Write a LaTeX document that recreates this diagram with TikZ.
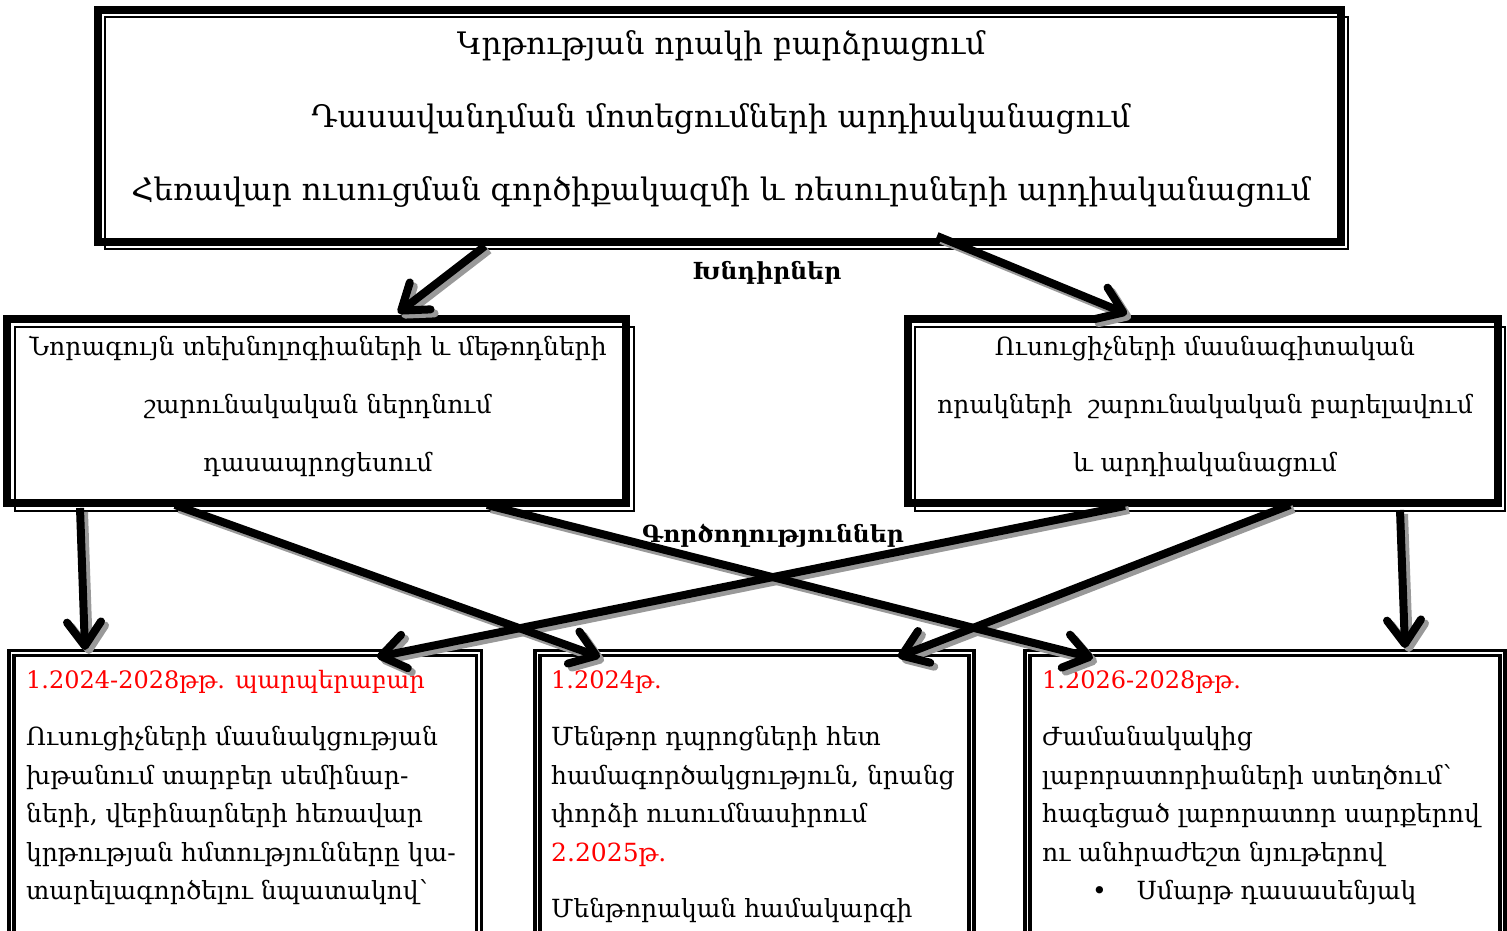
\documentclass[tikz,border=0pt]{standalone}
\usepackage{fontspec}
\setmainfont{DejaVu Serif}
\usetikzlibrary{arrows.meta}

\begin{document}
\begin{tikzpicture}[x=1pt,y=-1pt]
			\tikzset{frame/.style={draw,fill=white,line width=8pt,inner sep=0pt,outer sep=0pt}}
			\tikzset{thinframe/.style={line width=2pt}}
			\tikzset{planframe/.style={draw,double,line width=3.2pt,double distance=1.8pt,inner sep=0pt,outer sep=0pt}}
			\tikzset{arr/.style={line width=8pt,-{Straight Barb[round,length=24pt,width=34pt]}}}
			\tikzset{arrshadow/.style={arr,draw=black!40}}
			\tikzset{head/.style={anchor=base west,inner sep=0pt,text=red,font=\fontsize{24}{38.5}\selectfont}}
			\tikzset{body/.style={anchor=north west,inner sep=0pt,align=left,font=\fontsize{25}{38.5}\selectfont,execute at begin node=\strut}}
			\tikzset{title/.style={font=\bfseries\fontsize{23.5}{30}\selectfont}}
			\useasboundingbox (0,0) rectangle (1507,931);
			\clip (0,0) rectangle (1507,931);
			% goals
			\node[frame,minimum width=1243.5pt,minimum height=232pt] (goalbox) at (719.25,126) {};
			\draw[thinframe] ([shift={(7,7)}]goalbox.north west) rectangle ([shift={(7,7)}]goalbox.south east);
			\node[inner sep=0pt,align=center,font=\fontsize{31}{73}\selectfont] (goals) at (721,119) {Կրթության որակի բարձրացում\\Դասավանդման մոտեցումների արդիականացում\\Հեռավար ուսուցման գործիքակազմի և ռեսուրսների արդիականացում};
			% tasks
			\node[frame,minimum width=619pt,minimum height=184pt] (taskl) at (316.5,411) {};
			\draw[thinframe] ([shift={(8,8)}]taskl.north west) rectangle ([shift={(8,8)}]taskl.south east);
			\node[frame,minimum width=590pt,minimum height=184pt] (taskr) at (1203,411) {};
			\draw[thinframe] ([shift={(7,8)}]taskr.north west) rectangle ([shift={(7,8)}]taskr.south east);
			\node[inner sep=0pt,align=center,font=\fontsize{25}{58}\selectfont] (tasklt) at (318,407) {Նորագույն տեխնոլոգիաների և մեթոդների\\շարունակական ներդնում\\դասապրոցեսում};
			\node[inner sep=0pt,align=center,font=\fontsize{25}{58}\selectfont] (taskrt) at (1205,407) {Ուսուցիչների մասնագիտական\\որակների\ \ շարունակական բարելավում\\և արդիականացում};
			% actions
			\node[planframe,minimum width=467.5pt,minimum height=307pt] (planl) at (245.25,806.5) {};
			\node[planframe,minimum width=434pt,minimum height=307pt] (planm) at (754.5,806.5) {};
			\node[planframe,minimum width=475pt,minimum height=307pt] (planr) at (1265,806.5) {};
			\node[head] (planlh) at (26,688) {1.2024-2028թթ. պարպերաբար};
			\node[body] (planlt) at (26,726) {Ուսուցիչների մասնակցության\\խթանում տարբեր սեմինար-\\ների, վեբինարների հեռավար\\կրթության հմտությունները կա-\\տարելագործելու նպատակով՝};
			\node[head] (planmh) at (551,688) {1.2024թ.};
			\node[body] (planmt) at (551,726) {Մենթոր դպրոցների հետ\\համագործակցություն, նրանց\\փորձի ուսումնասիրում\\\textcolor{red}{2.2025թ.}\\[17.5pt]Մենթորական համակարգի};
			\node[head] (planrh) at (1042,688) {1.2026-2028թթ.};
			\node[body] (planrt) at (1042,726) {Ժամանակակից\\լաբորատորիաների ստեղծում՝\\հագեցած լաբորատոր սարքերով\\ու անհրաժեշտ նյութերով\\\hspace*{50pt}•\hspace*{30pt}Սմարթ դասասենյակ};
			% connectors
			\coordinate (g1) at (485,246);
			\coordinate (g2) at (937,236);
			\coordinate (t1) at (398,313);
			\coordinate (t2) at (1127,314);
			\coordinate (l1) at (80,508);
			\coordinate (l2) at (175,505);
			\coordinate (l3) at (487,505);
			\coordinate (r1) at (1125,506);
			\coordinate (r2) at (1290,505);
			\coordinate (r3) at (1400,510);
			\coordinate (p1) at (85,650);
			\coordinate (p2) at (377,657);
			\coordinate (p3) at (600,657);
			\coordinate (p4) at (898,657);
			\coordinate (p5) at (1093,658);
			\coordinate (p6) at (1405,648);
			\begin{scope}[transform canvas={xshift=4pt,yshift=-4pt}]
				\foreach \a/\b in {g1/t1,g2/t2,l1/p1,l2/p3,l3/p5,r1/p2,r2/p4,r3/p6}
					\draw[arrshadow] (\a) -- (\b);
			\end{scope}
			\foreach \a/\b in {g1/t1,g2/t2,l1/p1,l2/p3,l3/p5,r1/p2,r2/p4,r3/p6}
				\draw[arr] (\a) -- (\b);
			\node[title] (tasks) at (767,273) {Խնդիրներ};
			\node[title] (actions) at (773,536) {Գործողություններ};
\end{tikzpicture}
\end{document}
